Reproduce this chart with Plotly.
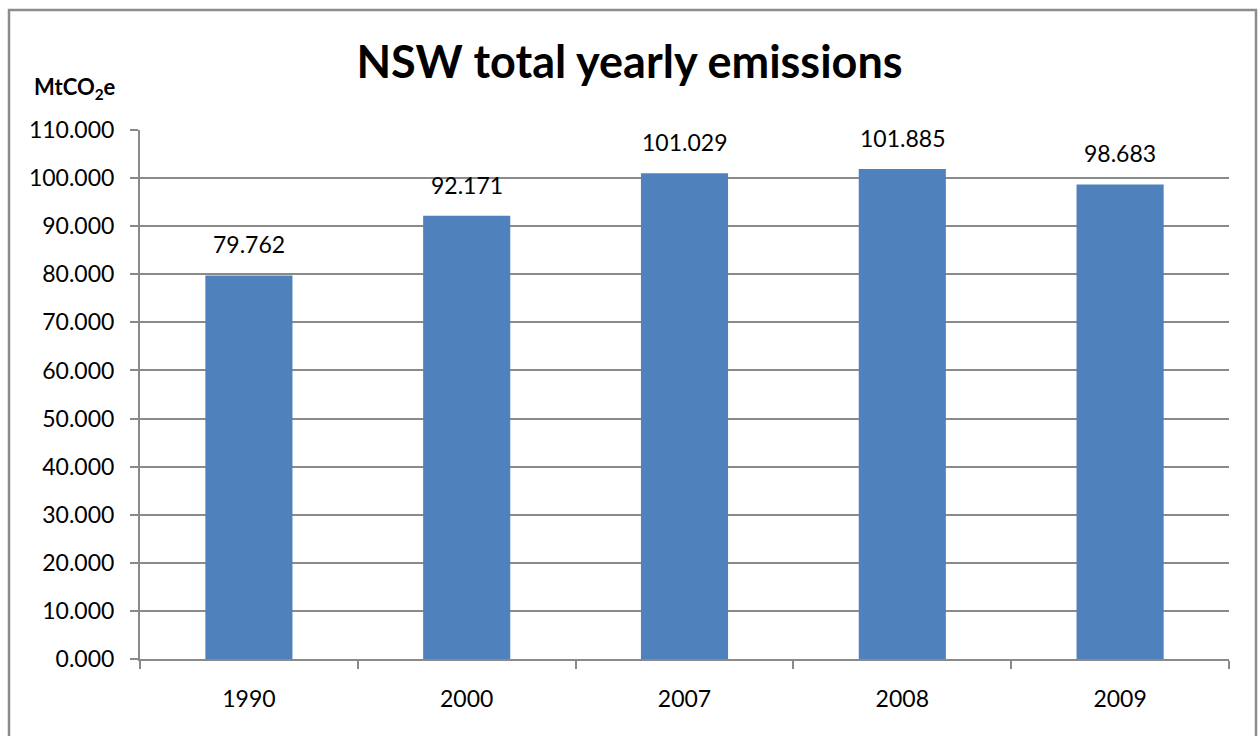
import plotly.graph_objects as go

# NSW total yearly emissions (MtCO2e)
years = ["1990", "2000", "2007", "2008", "2009"]
emissions = [79.762, 92.171, 101.029, 101.885, 98.683]
y_ticks = [0, 10, 20, 30, 40, 50, 60, 70, 80, 90, 100, 110]

W, H = 1259, 736
ML, MR, MT, MB = 140, 30, 130, 77
pw, ph = W - ML - MR, H - MT - MB

def px_x(p):
    return (p - ML) / pw

def px_y(p):
    return 1 - (p - MT) / ph

FONT = "Lato, Open Sans, sans-serif"
GRID = "#8a8a8a"
FS = 23

fig = go.Figure()
fig.add_trace(go.Bar(
    x=years,
    y=emissions,
    marker=dict(color="#4F81BD", line=dict(width=0)),
    width=0.4,
    hoverinfo="x+y",
))

# value labels above each bar (category index used as x position)
for i, v in enumerate(emissions):
    fig.add_annotation(
        x=i, y=v, text=f"{v:.3f}", showarrow=False,
        yanchor="bottom", yshift=15,
        font=dict(family=FONT, size=FS, color="black"),
    )

# unit label above the value axis
fig.add_annotation(
    xref="paper", yref="paper", x=px_x(75), y=px_y(88),
    text="<b>MtCO<sub>2</sub>e</b>", showarrow=False,
    xanchor="center", yanchor="middle",
    font=dict(family=FONT, size=22, color="black"),
)

# chart frame
fig.add_shape(
    type="rect", xref="paper", yref="paper",
    x0=px_x(9), x1=px_x(1256), y0=px_y(760), y1=px_y(10),
    line=dict(color="#8c8c8c", width=2.5), layer="below",
)

fig.update_layout(
    width=W, height=H,
    margin=dict(l=ML, r=MR, t=MT, b=MB),
    paper_bgcolor="white", plot_bgcolor="white",
    showlegend=False,
    title=dict(
        text="<b>NSW total yearly emissions</b>",
        x=0.5, xref="container", xanchor="center",
        y=1 - 62 / H, yref="container", yanchor="middle",
        font=dict(family=FONT, size=45, color="black"),
    ),
    xaxis=dict(
        type="category",
        range=[-0.5, len(years) - 0.5],
        showline=True, linecolor=GRID, linewidth=2,
        ticks="outside", ticklen=8, tickcolor=GRID, tickwidth=2,
        tickson="boundaries",
        showgrid=False,
        tickangle=0,
        ticklabelstandoff=18,
        tickfont=dict(family=FONT, size=FS, color="black"),
    ),
    yaxis=dict(
        range=[0, 110],
        tickvals=y_ticks,
        tickformat=".3f",
        showline=True, linecolor=GRID, linewidth=2,
        ticks="outside", ticklen=8, tickcolor=GRID, tickwidth=2,
        showgrid=True, gridcolor=GRID, gridwidth=1.5,
        zeroline=False,
        ticklabelstandoff=11,
        tickfont=dict(family=FONT, size=FS, color="black"),
    ),
)

fig.write_html("out.html")
